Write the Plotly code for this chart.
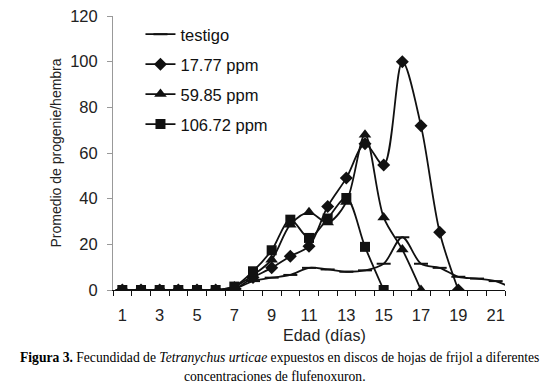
import plotly.graph_objects as go

dias = list(range(1, 23))
testigo = [0, 0, 0, 0, 0, 0, 0.5, 3.9, 5.4, 6.6, 9.7, 9.0, 8.0, 8.6, 11.5, 23.1, 11.5, 9.7, 5.8, 5.0, 3.9, 0.3]
dias_17 = list(range(1, 20))
ppm_17_77 = [0, 0, 0, 0, 0, 0, 0.5, 5.5, 9.7, 14.8, 19.2, 36.6, 49.0, 64.0, 54.7, 100.0, 71.9, 25.3, 0]
dias_59 = list(range(1, 18))
ppm_59_85 = [0, 0, 0, 0, 0, 0, 1.5, 6.5, 13.3, 28.6, 34.0, 29.6, 38.5, 68.0, 31.8, 17.7, 0]
dias_106 = list(range(1, 16))
ppm_106_72 = [0, 0, 0, 0, 0, 0, 1.5, 8.2, 17.4, 30.8, 22.8, 31.3, 40.3, 18.9, 0]

x_tick_vals = [1, 3, 5, 7, 9, 11, 13, 15, 17, 19, 21]
y_tick_vals = [0, 20, 40, 60, 80, 100, 120]

FONT = "Liberation Sans, Arial, sans-serif"
SERIF = "Liberation Serif, Times New Roman, serif"
INK = "#111111"
TXT = "#222222"

fig = go.Figure()

def add(name, xs, ys, symbol, size, group):
    fig.add_trace(go.Scatter(
        x=xs, y=ys, name=name, mode="lines+markers",
        line=dict(color=INK, width=1.8, shape="spline", smoothing=0.9),
        marker=dict(symbol=symbol, size=size, color=INK,
                    line=dict(color=INK, width=2 if symbol == "line-ew" else 0)),
        legendgroup=group,
    ))

add("testigo", dias, testigo, "line-ew", 10, "a")
add("17.77 ppm", dias_17, ppm_17_77, "diamond", 10, "b")
add("59.85 ppm", dias_59, ppm_59_85, "triangle-up", 11, "c")
add("106.72 ppm", dias_106, ppm_106_72, "square", 10, "d")

# page body has an 8px default margin; work in reference-page pixel coords
OFF = 8
W, H = 548 - OFF, 389 - OFF
PL, PR, PT, PB = 112.5, 505, 16, 290.5   # plot area in page coords
L, T = PL - OFF, PT - OFF
R, B = 548 - PR, 389 - PB
pw, ph = PR - PL, PB - PT

def px(xp):
    return (xp - PL) / pw

def py(yp):
    return (PB - yp) / ph

fig.update_layout(
    width=W, height=H,
    margin=dict(l=L, r=R, t=T, b=B, autoexpand=False),
    paper_bgcolor="white", plot_bgcolor="white",
    font=dict(family=FONT, size=14, color=TXT),
    showlegend=True,
    legend=dict(
        x=px(140), y=py(17), xanchor="left", yanchor="top",
        bgcolor="rgba(0,0,0,0)", font=dict(size=16.5, color=INK),
        tracegroupgap=5.5, itemwidth=30,
    ),
    xaxis=dict(
        range=[0.5, 21.5], tickmode="array", tickvals=x_tick_vals,
        ticks="", showgrid=False, zeroline=False,
        showline=True, linecolor=INK, linewidth=1.2,
        tickfont=dict(size=16.5, color=TXT), ticklabelstandoff=10,
        ticklabeloverflow="allow",
        minor=dict(tickmode="array", tickvals=[v + 0.5 for v in range(0, 22)],
                   ticks="outside", ticklen=5, tickcolor=INK, tickwidth=1, showgrid=False),
    ),
    yaxis=dict(
        range=[0, 120], tickmode="array", tickvals=y_tick_vals,
        ticks="outside", ticklen=5, tickcolor="#999999", tickwidth=1,
        showgrid=False, zeroline=False,
        showline=True, linecolor="#999999", linewidth=1,
        tickfont=dict(size=16.5, color=TXT), ticklabelstandoff=6,
        ticklabeloverflow="allow",
        title=dict(text="Promedio de progenie/hembra", font=dict(size=14, color=TXT), standoff=5),
    ),
)

fig.add_annotation(
    text="Edad (días)", xref="paper", yref="paper", x=px(324), y=py(336),
    xanchor="center", yanchor="middle", showarrow=False,
    font=dict(family=FONT, size=16, color=TXT),
)
fig.add_annotation(
    text="<b>Figura 3.</b> Fecundidad de <i>Tetranychus urticae</i> expuestos en discos de hojas de frijol a diferentes",
    xref="paper", yref="paper", x=px(279), y=py(358), xanchor="center", yanchor="middle",
    showarrow=False, font=dict(family=SERIF, size=13.6, color="#000000"),
)
fig.add_annotation(
    text="concentraciones de flufenoxuron.",
    xref="paper", yref="paper", x=px(275), y=py(377), xanchor="center", yanchor="middle",
    showarrow=False, font=dict(family=SERIF, size=13.6, color="#000000"),
)

fig.write_html("out.html")
